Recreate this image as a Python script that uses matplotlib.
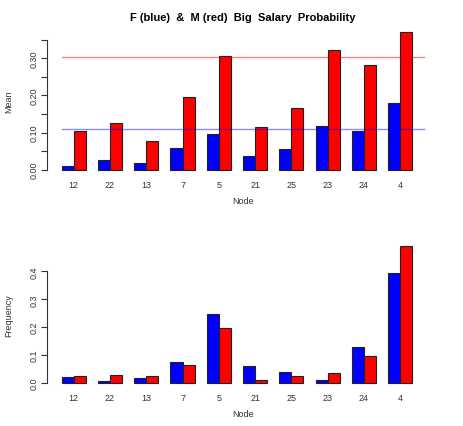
import numpy as np
import matplotlib
matplotlib.use('Agg')
import matplotlib.pyplot as plt

plt.rcParams['font.family'] = ['Liberation Sans', 'DejaVu Sans']

nodes = ['12', '22', '13', '7', '5', '21', '25', '23', '24', '4']

# mean big-salary probability
mean_f = [0.011, 0.027, 0.018, 0.058, 0.096, 0.037, 0.056, 0.117, 0.104, 0.179]
mean_m = [0.103, 0.125, 0.076, 0.195, 0.306, 0.115, 0.165, 0.323, 0.283, 0.371]
avg_f = 0.109
avg_m = 0.305

# frequency of nodes
freq_f = [0.020, 0.006, 0.018, 0.074, 0.247, 0.061, 0.039, 0.010, 0.128, 0.394]
freq_m = [0.024, 0.027, 0.024, 0.064, 0.198, 0.011, 0.026, 0.036, 0.097, 0.492]

W, H = 463, 427
fig = plt.figure(figsize=(W / 100, H / 100), dpi=100)


def box(x0, y0, x1, y1):
    # pixel box (from top-left) -> figure fraction
    return [x0 / W, 1 - y1 / H, (x1 - x0) / W, (y1 - y0) / H]


def barras(ax, f, m, ymax, ticks, labels, ylabel):
    n = len(nodes)
    left = 1 + 3 * np.arange(n)   # R barplot: space=c(0,1)
    ax.bar(left, f, width=1, align='edge', color='#0000ff', edgecolor='#222222', linewidth=0.8)
    ax.bar(left + 1, m, width=1, align='edge', color='#ff0000', edgecolor='#222222', linewidth=0.8)
    ax.set_xlim(1 - 1.2, 31 + 1.2)
    ax.set_ylim(-0.04 * ymax, ymax * 1.04)
    for s in ['top', 'right', 'bottom']:
        ax.spines[s].set_visible(False)
    ax.spines['left'].set_bounds(ticks[0], ticks[-1])
    ax.spines['left'].set_color('#333333')
    ax.set_yticks(ticks)
    ax.set_yticklabels(labels, rotation=90, va='center', fontsize=6.5, color='#333333')
    ax.tick_params(axis='y', length=4, width=0.8, color='#333333', pad=2)
    ax.set_xticks(left + 1)
    ax.set_xticklabels(nodes, fontsize=6.5, color='#333333')
    ax.tick_params(axis='x', length=0, pad=3.5)
    ax.set_xlabel('Node', fontsize=6.5, color='#333333', labelpad=5)
    ax.set_ylabel(ylabel, fontsize=6.5, color='#333333', labelpad=12)
    return left


ax1 = fig.add_axes(box(47.2, 27.5, 438.8, 176.2))
t1 = np.arange(0, 0.351, 0.05)
lab1 = ['0.00' if i == 0 else ('%.2f' % v if i % 2 == 0 else '') for i, v in enumerate(t1)]
left = barras(ax1, mean_f, mean_m, 0.371, t1, lab1, 'Mean')
ax1.plot([1, 31], [avg_m, avg_m], color='#ff0000', alpha=0.5, linewidth=1)
ax1.plot([1, 31], [avg_f, avg_f], color='#0000ff', alpha=0.45, linewidth=1)
ax1.set_title('F (blue)  &  M (red)  Big  Salary  Probability', fontsize=8,
              fontweight='bold', pad=5)

ax2 = fig.add_axes(box(47.2, 241.2, 438.8, 389.5))
t2 = [0.0, 0.1, 0.2, 0.3, 0.4]
barras(ax2, freq_f, freq_m, 0.492, t2, ['0.0', '0.1', '0.2', '0.3', '0.4'], 'Frequency')

fig.savefig('out.png', dpi=100)
